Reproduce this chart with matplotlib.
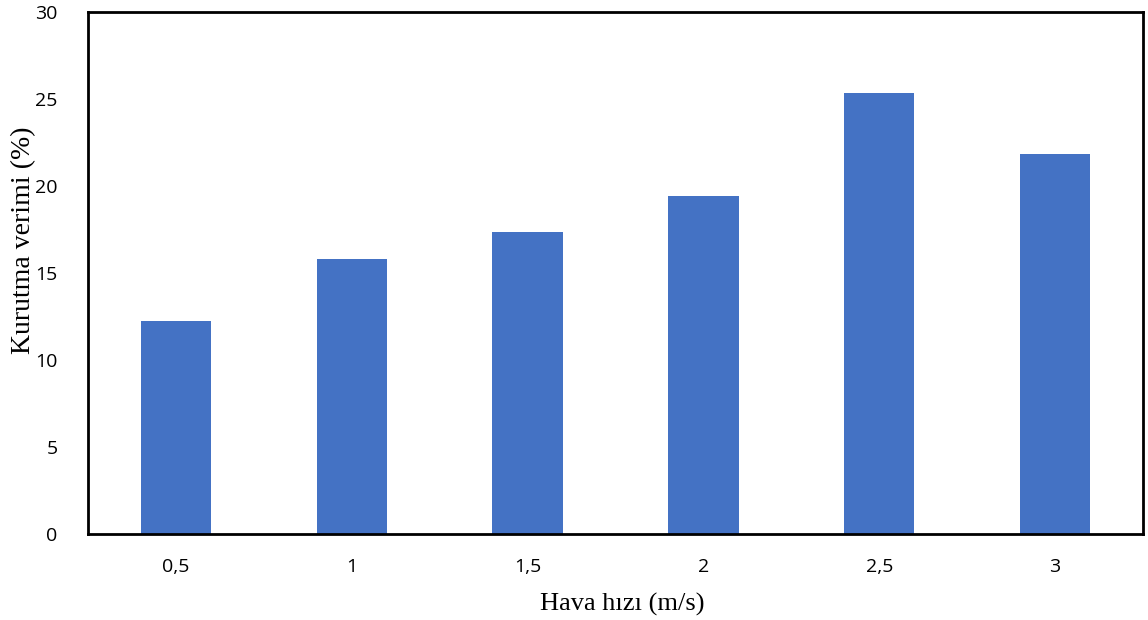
import matplotlib
matplotlib.use("Agg")
import matplotlib.pyplot as plt

# Drying efficiency by air velocity
categories = ["0,5", "1", "1,5", "2", "2,5", "3"]
efficiency = [12.27, 15.78, 17.38, 19.45, 25.36, 21.84]
y_ticks = [0, 5, 10, 15, 20, 25, 30]

fig = plt.figure(figsize=(11.48, 6.2), dpi=100)
ax = fig.add_axes([88 / 1148, 1 - 534 / 620, (1143 - 88) / 1148, (534 - 12) / 620])

x = list(range(len(categories)))
ax.bar(x, efficiency, width=0.4, color="#4472C4", zorder=2)

ax.set_xlim(-0.5, len(categories) - 0.5)
ax.set_ylim(0, 30)
ax.set_yticks(y_ticks)
ax.set_xticks(x)
ax.set_xticklabels(categories)

ax.tick_params(axis="both", length=0, labelsize=14, colors="black")
ax.tick_params(axis="y", pad=22)
ax.tick_params(axis="x", pad=17)
for lab in ax.get_xticklabels() + ax.get_yticklabels():
    lab.set_fontfamily("Open Sans")

for side in ["left", "right", "top", "bottom"]:
    ax.spines[side].set_linewidth(2)
    ax.spines[side].set_color("black")

ax.set_xlabel("Hava hızı (m/s)", fontfamily="Liberation Serif", fontsize=19)
ax.set_ylabel("Kurutma verimi (%)", fontfamily="Liberation Serif", fontsize=20)
ax.xaxis.set_label_coords(622 / 1148, 1 - 604 / 620, transform=fig.transFigure)
ax.yaxis.set_label_coords(24 / 1148, 1 - 240 / 620, transform=fig.transFigure)
ax.xaxis.label.set_va("center")
ax.yaxis.label.set_va("center")

fig.savefig("out.png", dpi=100)
